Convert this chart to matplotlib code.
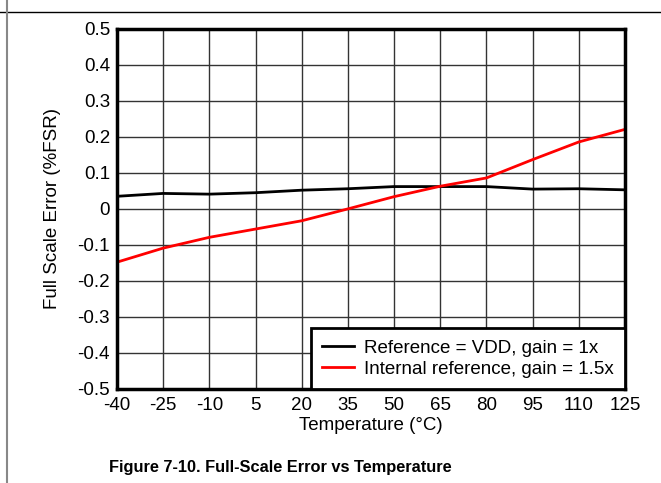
import matplotlib.pyplot as plt
from matplotlib.lines import Line2D

plt.rcParams['font.family'] = ['Liberation Sans', 'DejaVu Sans']

temps = [-40, -25, -10, 5, 20, 35, 50, 65, 80, 95, 110, 125]
err_vdd = [0.035, 0.043, 0.041, 0.045, 0.052, 0.056, 0.062, 0.062, 0.062, 0.055, 0.056, 0.053]
err_int = [-0.148, -0.109, -0.079, -0.056, -0.033, 0.0, 0.034, 0.063, 0.086, 0.137, 0.186, 0.221]
yticks = [0.5, 0.4, 0.3, 0.2, 0.1, 0, -0.1, -0.2, -0.3, -0.4, -0.5]
ytick_labels = ['0.5', '0.4', '0.3', '0.2', '0.1', '0', '-0.1', '-0.2', '-0.3', '-0.4', '-0.5']

fs = 13.5

fig = plt.figure(figsize=(6.61, 4.83), dpi=100)
ax = fig.add_axes([0.177, 0.195, 0.7685, 0.745])

ax.plot(temps, err_vdd, color='black', linewidth=2, label='Reference = VDD, gain = 1x')
ax.plot(temps, err_int, color='#ff0000', linewidth=2, label='Internal reference, gain = 1.5x')

ax.set_xlim(-40, 125)
ax.set_ylim(-0.5, 0.5)
ax.set_xticks(temps)
ax.set_xticklabels([str(t) for t in temps])
ax.set_yticks(yticks)
ax.set_yticklabels(ytick_labels)
ax.tick_params(axis='x', length=0, labelsize=fs, pad=6)
ax.tick_params(axis='y', length=0, labelsize=fs, pad=5)
ax.grid(True, color='#333333', linewidth=1)
for s in ax.spines.values():
    s.set_linewidth(2.5)

ax.set_xlabel('Temperature (°C)', fontsize=fs, labelpad=2)
ax.set_ylabel('Full Scale Error (%FSR)', fontsize=fs, labelpad=12)

leg = ax.legend(loc='lower right', fontsize=fs, fancybox=False, framealpha=1,
                borderaxespad=0, handlelength=1.7, handletextpad=0.55,
                borderpad=0.6, labelspacing=0.2)
leg.get_frame().set_edgecolor('black')
leg.get_frame().set_linewidth(2)

fig.text(0.424, 0.022, 'Figure 7-10. Full-Scale Error vs Temperature',
         ha='center', fontsize=11.8, fontweight='bold')

# page frame lines
fig.add_artist(Line2D([0, 1], [0.976, 0.976], color='black', linewidth=1, transform=fig.transFigure))
fig.add_artist(Line2D([0.011, 0.011], [0, 1], color='#888888', linewidth=1.5, transform=fig.transFigure))

fig.savefig('out.png', dpi=100)
